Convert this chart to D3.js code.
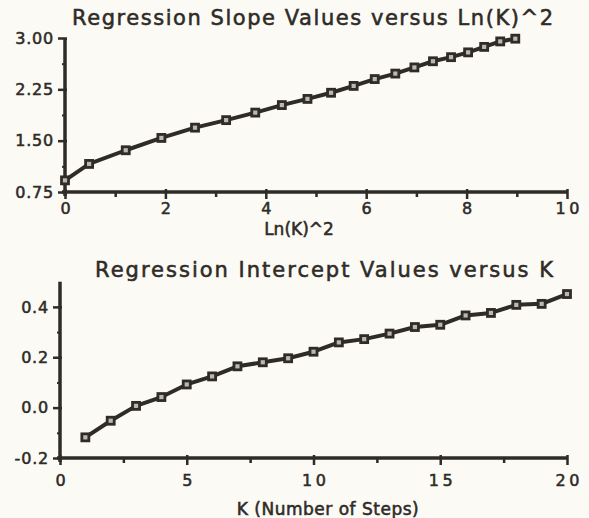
<!DOCTYPE html>
<html>
  <head>
    <title>Regression Slope and Intercept</title>
    <script src="https://d3js.org/d3.v7.min.js"></script>
    <style>
      body { margin: 0; background: #fbfaf4; }
      text { font-family: "DejaVu Sans", Verdana, sans-serif; fill: #2f2b27;
             stroke: #2f2b27; stroke-width: 0.55px; }
    </style>
  </head>
  <body>
    <svg width="589" height="518"></svg>
    <script>
      // top chart: slope vs Ln(K)^2, K = 1..20
      const lnK2 = [0, 0.48, 1.21, 1.92, 2.59, 3.21, 3.79, 4.32, 4.83, 5.30,
                    5.75, 6.17, 6.58, 6.96, 7.33, 7.69, 8.03, 8.35, 8.67, 8.97];
      const slope = [0.92, 1.16, 1.36, 1.54, 1.69, 1.80, 1.91, 2.02, 2.11, 2.20,
                     2.30, 2.40, 2.48, 2.57, 2.66, 2.72, 2.79, 2.87, 2.95, 2.99];
      const slopeTicksY = [0.75, 1.5, 2.25, 3.0];
      const slopeTicksX = [0, 2, 4, 6, 8, 10];

      // bottom chart: intercept vs K
      const kSteps = [1, 2, 3, 4, 5, 6, 7, 8, 9, 10,
                      11, 12, 13, 14, 15, 16, 17, 18, 19, 20];
      const intercept = [-0.118, -0.052, 0.007, 0.042, 0.092, 0.124, 0.164, 0.180, 0.196, 0.222,
                         0.259, 0.272, 0.294, 0.320, 0.329, 0.366, 0.376, 0.408, 0.412, 0.451];
      const interceptTicksY = [-0.2, 0.0, 0.2, 0.4];
      const interceptTicksX = [0, 5, 10, 15, 20];

      const ink = "#2f2b27";
      const svg = d3.select("svg");

      function panel(opt){
        const x = d3.scaleLinear().domain(opt.xDomain).range(opt.xRange);
        const y = d3.scaleLinear().domain(opt.yDomain).range(opt.yRange);
        const g = svg.append("g");

        // minor ticks
        g.append("g")
          .attr("transform", `translate(0,${opt.yRange[0]})`)
          .call(d3.axisBottom(x).tickValues(opt.xMinor).tickSize(5).tickFormat(""))
          .call(a => a.select(".domain").remove())
          .call(a => a.selectAll("line").attr("stroke", ink).attr("stroke-width", 2.5));
        g.append("g")
          .attr("transform", `translate(${opt.xRange[0]},0)`)
          .call(d3.axisLeft(y).tickValues(opt.yMinor).tickSize(3).tickFormat(""))
          .call(a => a.select(".domain").remove())
          .call(a => a.selectAll("line").attr("stroke", ink).attr("stroke-width", 2));

        // x axis
        g.append("g")
          .attr("transform", `translate(0,${opt.yRange[0]})`)
          .call(d3.axisBottom(x).tickValues(opt.xTicks).tickSize(7).tickSizeOuter(0)
                  .tickPadding(opt.xPad).tickFormat(d3.format("d")))
          .call(a => a.select(".domain").attr("stroke", ink).attr("stroke-width", 3.5)
                       .attr("d", `M${opt.xRange[0] - 3},0H${opt.xRange[1]}`))
          .call(a => a.selectAll("line").attr("stroke", ink).attr("stroke-width", 2.5).attr("y1", -3))
          .call(a => a.selectAll("text").attr("font-size", 16).attr("letter-spacing", 3.5)
                       .attr("fill", ink).attr("dx", 1.75));

        // y axis
        g.append("g")
          .attr("transform", `translate(${opt.xRange[0]},0)`)
          .call(d3.axisLeft(y).tickValues(opt.yTicks).tickSize(7).tickSizeOuter(0)
                  .tickPadding(4).tickFormat(d3.format(opt.yFormat)))
          .call(a => a.select(".domain").attr("stroke", ink).attr("stroke-width", 3.5)
                       .attr("d", `M0,${opt.yRange[0] + 4}V${opt.yTop}`))
          .call(a => a.selectAll("line").attr("stroke", ink).attr("stroke-width", 2.5).attr("x1", 2))
          .call(a => a.selectAll("text").attr("font-size", 16).attr("letter-spacing", 0.8)
                       .attr("fill", ink).text(d => d3.format(opt.yFormat)(d).replace("−", "-")));

        const pts = opt.xs.map((v, i) => [v, opt.ys[i]]);

        g.append("path")
          .datum(pts)
          .attr("fill", "none")
          .attr("stroke", ink)
          .attr("stroke-width", 4)
          .attr("stroke-linejoin", "round")
          .attr("d", d3.line().x(d => x(d[0])).y(d => y(d[1])));

        g.selectAll("rect.mark")
          .data(pts)
          .enter().append("rect")
            .attr("class", "mark")
            .attr("x", d => x(d[0]) - 3.5)
            .attr("y", d => y(d[1]) - 3.5)
            .attr("width", 7)
            .attr("height", 7)
            .attr("fill", "#bdb8ae")
            .attr("stroke", ink)
            .attr("stroke-width", 2.8);

        svg.append("text")
          .attr("x", opt.title.x).attr("y", opt.title.y)
          .attr("font-size", 21)
          .attr("textLength", opt.title.w)
          .attr("lengthAdjust", "spacing")
          .text(opt.title.text);

        svg.append("text")
          .attr("x", opt.label.x).attr("y", opt.label.y)
          .attr("font-size", 17)
          .attr("letter-spacing", opt.label.ls)
          .attr("text-anchor", "middle")
          .text(opt.label.text);
      }

      panel({
        xs: lnK2, ys: slope,
        xDomain: [0, 10], xRange: [65, 567],
        yDomain: [0.75, 3.0], yRange: [192, 38], yTop: 38,
        xTicks: slopeTicksX, xMinor: [1, 3, 5, 7, 9], xPad: 4,
        yTicks: slopeTicksY, yMinor: [1.125, 1.875, 2.625],
        yFormat: ".2f",
        title: { text: "Regression Slope Values versus Ln(K)^2", x: 72, y: 25, w: 481 },
        label: { text: "Ln(K)^2", x: 299, y: 235, ls: 0 }
      });

      panel({
        xs: kSteps, ys: intercept,
        xDomain: [0, 20], xRange: [60, 567],
        yDomain: [-0.2, 0.5], yRange: [458, 281.7], yTop: 281.7,
        xTicks: interceptTicksX, xMinor: [2.5, 7.5, 12.5, 17.5], xPad: 10,
        yTicks: interceptTicksY, yMinor: [-0.1, 0.1, 0.3],
        yFormat: ".1f",
        title: { text: "Regression Intercept Values versus K", x: 95, y: 277, w: 458 },
        label: { text: "K (Number of Steps)", x: 328, y: 515, ls: 0.5 }
      });
    </script>
  </body>
</html>
